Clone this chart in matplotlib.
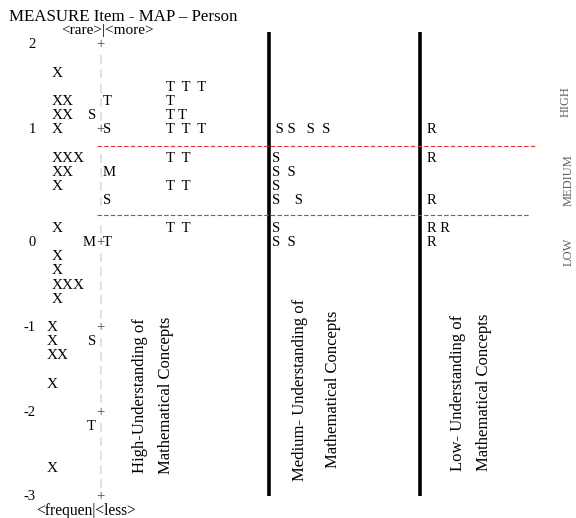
import matplotlib
matplotlib.use("Agg")
import matplotlib.pyplot as plt

# ---------------- data (Wright map, one entry per text row) ----------------
title = "MEASURE Item - MAP \u2013 Person"
top_header = "<rare>|<more>"
bottom_header = "<frequen|<less>"

# logit labels and the row on which they sit
measure_labels = ["2", "1", "0", "-1", "-2", "-3"]
measure_rows = [0, 6, 14, 20, 26, 32]

# persons (X) per row
person_rows = [2, 4, 5, 6, 8, 9, 10, 13, 15, 16, 17, 18, 20, 21, 22, 24, 30]
person_marks = ["X", "XX", "XX", "X", "XXX", "XX", "X", "X", "X", "X", "XXX", "X",
                "X", "X", "XX", "X", "X"]

# rows on which the central ruler is drawn (+ on integer logits)
ruler_rows = [r for r in range(0, 33) if r not in (7, 12)]
ruler_plus_rows = [0, 6, 14, 20, 26, 32]

# M / S / T markers left (persons) and right (items) of the ruler
left_marker_rows = [5, 14, 21, 27]
left_markers = ["S", "M", "S", "T"]
right_marker_rows = [4, 6, 9, 11, 14]
right_markers = ["T", "S", "M", "S", "T"]

# item columns
t_rows = [3, 4, 5, 6, 8, 10, 13]
t_items = ["T  T  T", "T", "T T", "T  T  T", "T  T", "T  T", "T  T"]
s_rows = [6, 8, 9, 10, 11, 13, 14]
s_items = [" S S   S  S", "S", "S  S", "S", "S    S", "S", "S  S"]
r_rows = [6, 8, 11, 13, 14]
r_items = ["R", "R", "R", "R R", "R"]

# band separators (row positions) and band labels
band_lines = [7.15, 12.05]
band_labels = ["HIGH", "MEDIUM", "LOW"]
band_label_rows = [4.0, 9.6, 14.65]

group_labels = [
    ("High-Understanding of", "Mathematical Concepts"),
    ("Medium- Understanding of", "Mathematical Concepts"),
    ("Low- Understanding of", "Mathematical Concepts"),
]

# ---------------- layout ----------------
W, H = 576, 518
ROW0_PX, ROW_PX = 45.0, 14.125

fig = plt.figure(figsize=(W / 100, H / 100), dpi=100)
ax = fig.add_axes([0, 0, 1, 1])
ax.set_xlim(0, W)
ax.set_ylim((H - ROW0_PX) / ROW_PX, -ROW0_PX / ROW_PX)
ax.axis("off")

FONT = "Liberation Serif"
FS = 10.5
txt = dict(family=FONT, fontsize=FS, va="center", color="black")

ax.text(9, -2.0, title, ha="left", **dict(txt, fontsize=12.2))
ax.text(61, -1.0, top_header, ha="left", **dict(txt, fontsize=11))
ax.text(36, 33.0, bottom_header, ha="left", **dict(txt, fontsize=11.2))

for lab, r in zip(measure_labels, measure_rows):
    ax.text(36, r, lab, ha="right", **txt)

for r, m in zip(person_rows, person_marks):
    ax.text(52 if r < 20 else 47, r, m, ha="left", **dict(txt, fontsize=11))

AXX = 100
for r in ruler_rows:
    if r in ruler_plus_rows:
        ax.text(AXX, r, "+", ha="center", **dict(txt, color="#444444"))
    else:
        ax.text(AXX, r + 0.05, "|", ha="center", **dict(txt, fontsize=7.5, color="#8c8c9c"))

for r, m in zip(left_marker_rows, left_markers):
    ax.text(AXX - 4, r, m, ha="right", **txt)
for r, m in zip(right_marker_rows, right_markers):
    ax.text(AXX + 3, r, m, ha="left", **txt)

for r, m in zip(t_rows, t_items):
    ax.text(166, r, m, ha="left", **txt)
for r, m in zip(s_rows, s_items):
    ax.text(272, r, m, ha="left", **txt)
for r, m in zip(r_rows, r_items):
    ax.text(427, r, m, ha="left", **txt)

# thick black column separators
for x in (268.5, 420):
    ax.plot([x, x], [(32 - ROW0_PX) / ROW_PX, (496 - ROW0_PX) / ROW_PX],
            color="black", lw=2.6, solid_capstyle="butt")

# red dashed band separators
for y, x1 in zip(band_lines, (536, 530)):
    ax.plot([97, x1], [y, y], color="#e8302c", lw=0.8, ls=(0, (4, 2)))

for lab, r, x in zip(band_labels, band_label_rows, (566, 569, 569)):
    ax.text(x, r, lab, rotation=90, ha="center", va="center",
            family=FONT, fontsize=9, color="#606060")

gx = [(140, 166), (300, 333), (458, 484)]
gy = [24.8, 24.4, 24.6]
for (l1, l2), (x1, x2), y in zip(group_labels, gx, gy):
    ax.text(x1, y, l1, rotation=90, ha="center", va="center", family=FONT, fontsize=12)
    ax.text(x2, y, l2, rotation=90, ha="center", va="center", family=FONT, fontsize=12)

fig.savefig("out.png", dpi=100)
